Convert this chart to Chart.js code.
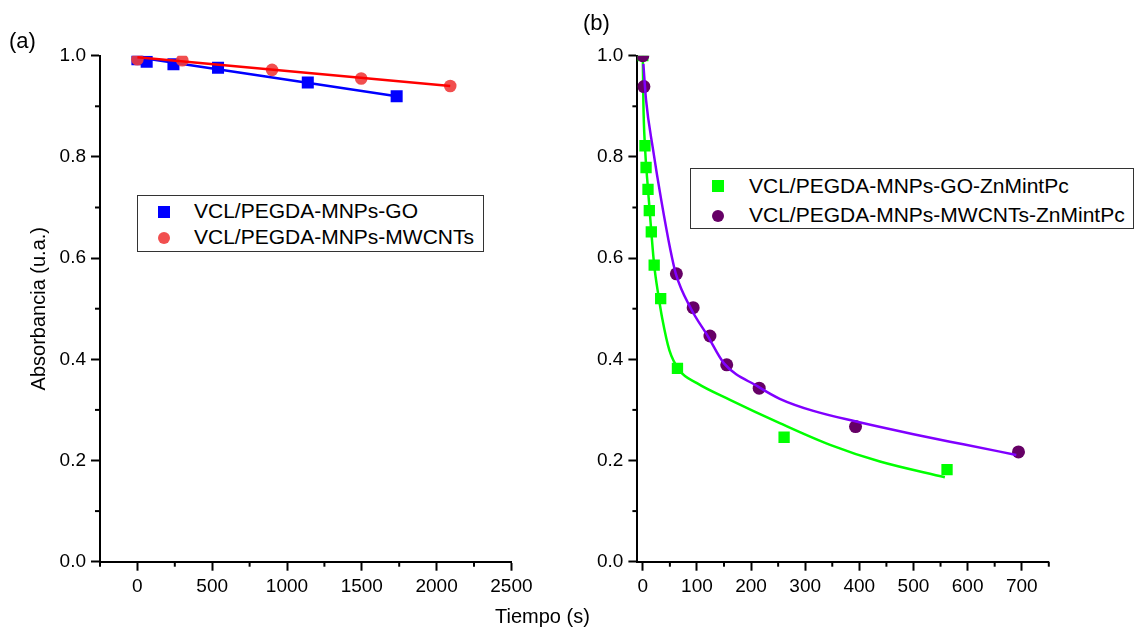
<!DOCTYPE html>
<html>
<head>
<meta charset="utf-8">
<script src="https://cdn.jsdelivr.net/npm/chart.js@4.4.1/dist/chart.umd.min.js"></script>
<style>
  body { margin: 0; background: #fff; }
  #wrap { position: relative; width: 1136px; height: 629px; font-family: 'Liberation Sans', Arial, sans-serif; color: #000; }
  canvas { position: absolute; top: 0; }
  .txt { position: absolute; white-space: nowrap; line-height: 1; }
  .legend { position: absolute; border: 1px solid #333; background: #fff; box-sizing: border-box; }
  .row { position: absolute; font-size: 21px; line-height: 24px; white-space: nowrap; }
  .mk { position: absolute; }
</style>
</head>
<body>
<div id="wrap">
  <canvas id="chartA" width="570" height="629" style="left:0"></canvas>
  <canvas id="chartB" width="566" height="629" style="left:570px"></canvas>

  <div class="txt" style="left:9px;top:30px;font-size:22px">(a)</div>
  <div class="txt" style="left:583px;top:12px;font-size:22px">(b)</div>
  <div class="txt" style="left:495px;top:606px;font-size:20px">Tiempo (s)</div>

  <div class="legend" style="left:137px;top:195px;width:347px;height:57px">
    <div class="mk" style="left:20px;top:10px;width:12px;height:12px;background:#0000ff"></div>
    <div class="row" style="left:56px;top:3px">VCL/PEGDA-MNPs-GO</div>
    <div class="mk" style="left:20px;top:36px;width:12px;height:12px;border-radius:50%;background:rgba(240,60,60,0.9)"></div>
    <div class="row" style="left:56px;top:29px">VCL/PEGDA-MNPs-MWCNTs</div>
  </div>

  <div class="legend" style="left:690px;top:168px;width:444px;height:61px">
    <div class="mk" style="left:21px;top:11px;width:12px;height:12px;background:#00ff00"></div>
    <div class="row" style="left:58px;top:5px">VCL/PEGDA-MNPs-GO-ZnMintPc</div>
    <div class="mk" style="left:21px;top:41px;width:12px;height:12px;border-radius:50%;background:#660066"></div>
    <div class="row" style="left:58px;top:34px">VCL/PEGDA-MNPs-MWCNTs-ZnMintPc</div>
  </div>
</div>

<script>
// ---- data ----
// (a) time in s, absorbance in u.a.
var goTime = [0, 62, 241, 539, 1139, 1733];
var goAbs = [0.993, 0.988, 0.983, 0.976, 0.947, 0.920];
var mwTime = [0, 300, 900, 1496, 2091];
var mwAbs = [0.993, 0.991, 0.972, 0.955, 0.940];
var goFitTime = [0, 1733];
var goFitAbs = [0.997, 0.920];
var mwFitTime = [0, 2091];
var mwFitAbs = [0.997, 0.940];

// (b)
var goZnTime = [0, 4, 6, 9.6, 12, 15.7, 21, 33, 64, 261, 562];
var goZnAbs = [1.0, 0.822, 0.779, 0.736, 0.694, 0.652, 0.586, 0.520, 0.382, 0.246, 0.182];
var mwZnTime = [0, 2, 62, 93, 124, 155, 215, 393, 694];
var mwZnAbs = [1.0, 0.939, 0.569, 0.502, 0.446, 0.389, 0.343, 0.267, 0.217];
var goZnFitTime = [0, 1, 4, 9.6, 15.7, 21, 29, 36, 49, 67, 100, 161, 253, 346, 438, 558];
var goZnFitAbs = [1.0, 0.91, 0.82, 0.736, 0.652, 0.586, 0.525, 0.48, 0.418, 0.379, 0.353, 0.32, 0.274, 0.231, 0.198, 0.167];
var mwZnFitTime = [1, 6, 19, 34, 51, 61, 89, 120, 150, 213, 253, 315, 394, 500, 592, 690];
var mwZnFitAbs = [0.984, 0.912, 0.814, 0.715, 0.616, 0.569, 0.5, 0.446, 0.392, 0.346, 0.322, 0.298, 0.277, 0.252, 0.232, 0.211];

// ticks
var yTicks = [0, 0.2, 0.4, 0.6, 0.8, 1.0];
var yMinor = [0.1, 0.3, 0.5, 0.7, 0.9];
var xTicksA = [0, 500, 1000, 1500, 2000, 2500];
var xMinorA = [-250, 250, 750, 1250, 1750, 2250];
var xTicksB = [0, 100, 200, 300, 400, 500, 600, 700];
var xMinorB = [50, 150, 250, 350, 450, 550, 650, 750];

var FONT = "'Liberation Sans', Arial, sans-serif";
var PLOT_TOP = 55.7, PLOT_BOTTOM = 561.7, H = 629;

function pts(xs, ys) {
    return xs.map(function (x, i) { return {x: x, y: ys[i]}; });
}

// short ticks between the labelled ones
var minorTicks = {
    id: 'minorTicks',
    afterDraw: function (chart, args, opts) {
        var ctx = chart.ctx, xs = chart.scales.x, ys = chart.scales.y;
        ctx.save();
        ctx.strokeStyle = '#000';
        ctx.lineWidth = 2;
        opts.x.forEach(function (v) {
            var px = xs.getPixelForValue(v);
            ctx.beginPath(); ctx.moveTo(px, ys.bottom); ctx.lineTo(px, ys.bottom + 5); ctx.stroke();
        });
        opts.y.forEach(function (v) {
            var py = ys.getPixelForValue(v);
            ctx.beginPath(); ctx.moveTo(xs.left, py); ctx.lineTo(xs.left - 5, py); ctx.stroke();
        });
        ctx.restore();
    }
};

function scales(xMin, xMax, xTicks, yWidth, withTitle) {
    return {
        x: {
            type: 'linear', min: xMin, max: xMax,
            afterBuildTicks: function (s) { s.ticks = xTicks.map(function (v) { return {value: v}; }); },
            afterFit: function (s) { s.height = H - PLOT_BOTTOM; },
            border: {color: '#000', width: 2},
            grid: {drawOnChartArea: false, tickLength: 9, tickWidth: 2, color: '#000'},
            ticks: {color: '#000', font: {size: 19, family: FONT}, padding: 5, maxRotation: 0, autoSkip: false,
                    callback: function (v) { return String(v); }}
        },
        y: {
            type: 'linear', min: 0, max: 1,
            afterBuildTicks: function (s) { s.ticks = yTicks.map(function (v) { return {value: v}; }); },
            afterFit: function (s) { s.width = yWidth; },
            border: {color: '#000', width: 2},
            grid: {drawOnChartArea: false, tickLength: 9, tickWidth: 2, color: '#000'},
            ticks: {color: '#000', font: {size: 19, family: FONT}, padding: 5, autoSkip: false,
                    callback: function (v) { return v.toFixed(1); }},
            title: {display: withTitle, text: 'Absorbancia (u.a.)', color: '#000',
                    font: {size: 20, family: FONT}, padding: {top: 27, bottom: 0}}
        }
    };
}

function fitLine(data, color) {
    return {data: data, showLine: true, borderColor: color, borderWidth: 2.5, pointRadius: 0,
            cubicInterpolationMode: 'monotone', fill: false};
}

function marks(data, color, style, radius) {
    return {data: data, showLine: false, pointStyle: style, pointRadius: radius,
            backgroundColor: color, borderColor: color, borderWidth: 0};
}

var common = {
    responsive: false,
    animation: false,
    devicePixelRatio: 1,
    plugins: {legend: {display: false}, tooltip: {enabled: false}}
};

new Chart(document.getElementById('chartA'), {
    type: 'scatter',
    data: {
        datasets: [
            fitLine(pts(mwFitTime, mwFitAbs), '#ff0000'),
            marks(pts(mwTime, mwAbs), 'rgba(240,60,60,0.9)', 'circle', 6.3),
            fitLine(pts(goFitTime, goFitAbs), '#0000ff'),
            marks(pts(goTime, goAbs), '#0000ff', 'rect', 8.5)
        ]
    },
    options: Object.assign({}, common, {
        layout: {padding: {left: 0, top: PLOT_TOP, right: 570 - 511.4, bottom: 0}},
        scales: scales(-250, 2500, xTicksA, 100, true),
        plugins: Object.assign({}, common.plugins, {minorTicks: {x: xMinorA, y: yMinor}})
    }),
    plugins: [minorTicks]
});

new Chart(document.getElementById('chartB'), {
    type: 'scatter',
    data: {
        datasets: [
            fitLine(pts(mwZnFitTime, mwZnFitAbs), '#8000ff'),
            marks(pts(mwZnTime, mwZnAbs), '#660066', 'circle', 6.5),
            fitLine(pts(goZnFitTime, goZnFitAbs), '#00ff00'),
            marks(pts(goZnTime, goZnAbs), '#00ff00', 'rect', 8)
        ]
    },
    options: Object.assign({}, common, {
        layout: {padding: {left: 0, top: PLOT_TOP, right: 566 - 478.8, bottom: 0}},
        scales: scales(-10, 750, xTicksB, 637.4 - 570, false),
        plugins: Object.assign({}, common.plugins, {minorTicks: {x: xMinorB, y: yMinor}})
    }),
    plugins: [minorTicks]
});
</script>
</body>
</html>
